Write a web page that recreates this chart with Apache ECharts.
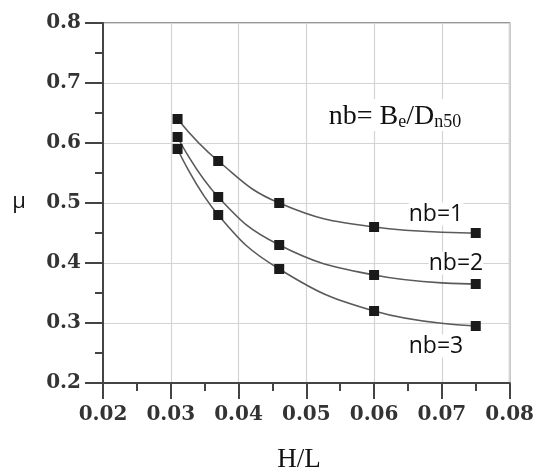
<!DOCTYPE html>
<html>
<head>
<meta charset="utf-8">
<script src="https://cdn.jsdelivr.net/npm/echarts@6/dist/echarts.min.js"></script>
<style>
html,body{margin:0;padding:0;background:#fff;}
#chart{width:537px;height:474px;}
</style>
</head>
<body>
<div id="chart"></div>
<script>
// Data
const hL = [0.031, 0.037, 0.046, 0.060, 0.075];
const muNb1 = [0.64, 0.57, 0.50, 0.46, 0.45];
const muNb2 = [0.61, 0.51, 0.43, 0.38, 0.365];
const muNb3 = [0.59, 0.48, 0.39, 0.32, 0.295];
const seriesNames = ['nb=1', 'nb=2', 'nb=3'];
const xTicks = [0.02, 0.03, 0.04, 0.05, 0.06, 0.07, 0.08];
const yTicks = [0.2, 0.3, 0.4, 0.5, 0.6, 0.7, 0.8];

const pair = (xs, ys) => xs.map((x, i) => [x, ys[i]]);
const seriesData = [pair(hL, muNb1), pair(hL, muNb2), pair(hL, muNb3)];

const chart = echarts.init(document.getElementById('chart'), null, {renderer: 'canvas'});
const labelFont = {fontFamily: 'DejaVu Serif', fontWeight: 'bold', fontSize: 20, color: '#333'};

chart.setOption({
  animation: false,
  backgroundColor: '#fff',
  grid: {left: 103, right: 26, top: 23, bottom: 91, show: true, borderColor: '#777', borderWidth: 1.5, backgroundColor: 'transparent'},
  xAxis: {
    type: 'value', min: xTicks[0], max: xTicks[xTicks.length - 1], interval: 0.01,
    axisLine: {show: true, onZero: false, lineStyle: {color: '#444', width: 2}},
    axisTick: {show: true, length: 16, lineStyle: {color: '#444', width: 2}},
    minorTick: {show: true, splitNumber: 2, length: 8, lineStyle: {color: '#444', width: 2}},
    splitLine: {show: true, lineStyle: {color: '#d4d4d4', width: 1.2}},
    axisLabel: Object.assign({margin: 22, formatter: v => v.toFixed(2)}, labelFont)
  },
  yAxis: {
    type: 'value', min: yTicks[0], max: yTicks[yTicks.length - 1], interval: 0.1,
    axisLine: {show: true, onZero: false, lineStyle: {color: '#444', width: 2}},
    axisTick: {show: true, length: 18, lineStyle: {color: '#444', width: 2}},
    minorTick: {show: true, splitNumber: 2, length: 8, lineStyle: {color: '#444', width: 2}},
    splitLine: {show: true, lineStyle: {color: '#d4d4d4', width: 1.2}},
    axisLabel: Object.assign({margin: 22, formatter: v => v.toFixed(1)}, labelFont)
  },
  series: seriesData.map((d, i) => ({
    name: seriesNames[i],
    type: 'line',
    data: d,
    smooth: 0.45,
    symbol: 'rect',
    symbolSize: 10,
    itemStyle: {color: '#1a1a1a'},
    lineStyle: {color: '#5a5a5a', width: 1.6},
    z: 3
  })),
  graphic: [
    {type: 'text', x: 19, y: 202, style: {text: 'μ', font: '22px "Open Sans"', fill: '#111', textAlign: 'center', textVerticalAlign: 'middle'}},
    {type: 'text', x: 299, y: 460, style: {text: 'H/L', font: '27px "Liberation Serif"', fill: '#111', textAlign: 'center', textVerticalAlign: 'middle'}},
    {type: 'text', x: 395, y: 115, z: 10, style: {
      text: '{m|nb= B}{s|e}{m|/D}{s|n50}',
      textAlign: 'center', textVerticalAlign: 'middle', backgroundColor: '#fff',
      rich: {
        m: {fontFamily: 'Liberation Serif', fontSize: 28, fill: '#111', color: '#111', verticalAlign: 'bottom', lineHeight: 32},
        s: {fontFamily: 'Liberation Serif', fontSize: 18, fill: '#111', color: '#111', verticalAlign: 'bottom', lineHeight: 25}
      }
    }},
    {type: 'text', x: 436, y: 214, z: 10, style: {text: 'nb=1', font: '23px "Open Sans"', fill: '#111', textAlign: 'center', textVerticalAlign: 'middle', backgroundColor: '#fff'}},
    {type: 'text', x: 456, y: 263, z: 10, style: {text: 'nb=2', font: '23px "Open Sans"', fill: '#111', textAlign: 'center', textVerticalAlign: 'middle', backgroundColor: '#fff'}},
    {type: 'text', x: 436, y: 346, z: 10, style: {text: 'nb=3', font: '23px "Open Sans"', fill: '#111', textAlign: 'center', textVerticalAlign: 'middle', backgroundColor: '#fff'}}
  ]
});
</script>
</body>
</html>
